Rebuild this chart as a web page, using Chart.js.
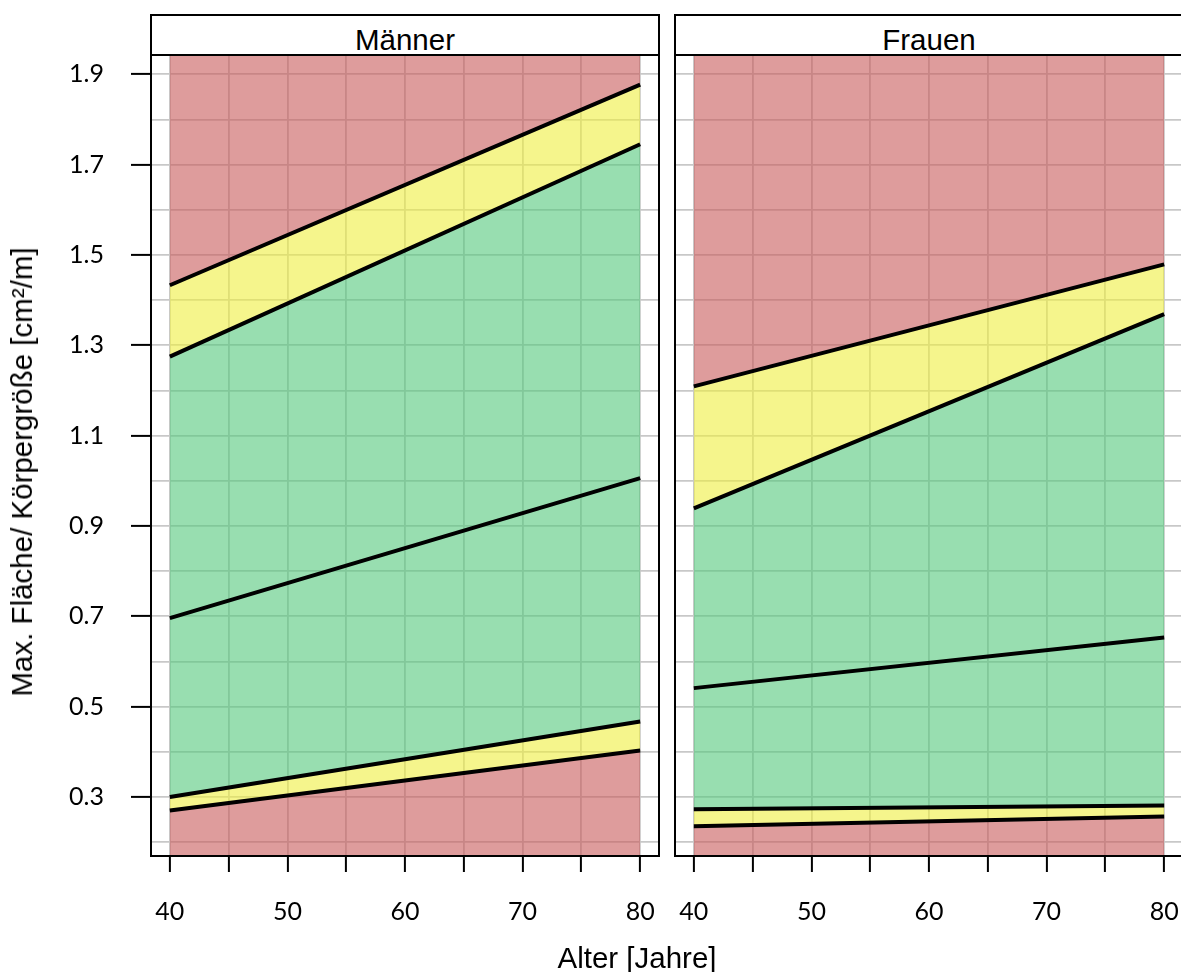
<!DOCTYPE html>
<html lang="de">
<head>
<meta charset="utf-8">
<title>Max. Fläche / Körpergröße nach Alter</title>
<script src="https://cdn.jsdelivr.net/npm/chart.js@4/dist/chart.umd.min.js"></script>
<style>
  html, body { margin: 0; padding: 0; background: #ffffff; overflow: hidden; }
  body { width: 1181px; height: 972px; position: relative; }
  canvas { position: absolute; top: 0; }
  #cMaenner { left: 0; }
  #cFrauen { left: 665px; }
  .strip {
    position: absolute; top: 14px; height: 42px; width: 510px;
    box-sizing: border-box; border: 2px solid #000; background: #fff;
    font-family: "Liberation Sans", Arial, sans-serif; font-size: 29.5px;
    line-height: 48px; text-align: center; color: #000;
  }
  .axis-title {
    position: absolute; font-family: "Liberation Sans", Arial, sans-serif;
    font-size: 29.5px; color: #000; white-space: nowrap;
  }
  #xTitle { left: 637px; top: 958px; transform: translate(-50%, -50%); }
  #yTitle { left: 22px; top: 472px; transform: translate(-50%, -50%) rotate(-90deg); }
</style>
</head>
<body>
<canvas id="cMaenner" width="665" height="972"></canvas>
<canvas id="cFrauen" width="525" height="972"></canvas>
<div class="strip" style="left:150px">Männer</div>
<div class="strip" style="left:674px">Frauen</div>
<div class="axis-title" id="xTitle">Alter [Jahre]</div>
<div class="axis-title" id="yTitle">Max. Fläche/ Körpergröße [cm²/m]</div>
<script>
// Alter an den Enden der Referenzgeraden
const ages = [40, 80];

// Männer: Grenzlinien (von unten nach oben) und Mittellinie
const maennerUntenRot = [0.270, 0.403];
const maennerUntenGelb = [0.300, 0.467];
const maennerMitte = [0.696, 1.006];
const maennerObenGruen = [1.275, 1.745];
const maennerObenGelb = [1.433, 1.877];

// Frauen: Grenzlinien (von unten nach oben) und Mittellinie
const frauenUntenRot = [0.235, 0.257];
const frauenUntenGelb = [0.273, 0.281];
const frauenMitte = [0.541, 0.653];
const frauenObenGruen = [0.939, 1.369];
const frauenObenGelb = [1.209, 1.479];

// Achsenbeschriftungen
const xLabelTicks = [40, 50, 60, 70, 80];
const yLabelTicks = [0.3, 0.5, 0.7, 0.9, 1.1, 1.3, 1.5, 1.7, 1.9];

const RED = 'rgba(200, 90, 90, 0.6)';
const YELLOW = 'rgba(238, 238, 63, 0.6)';
const GREEN = 'rgba(83, 200, 123, 0.6)';
const GRID = 'rgb(200, 200, 200)';

// Gemeinsamer Wertebereich beider Felder, um 4 % erweitert
const allValues = [].concat(maennerUntenRot, maennerUntenGelb, maennerMitte, maennerObenGruen, maennerObenGelb,
  frauenUntenRot, frauenUntenGelb, frauenMitte, frauenObenGruen, frauenObenGelb);
const vMin = Math.min(...allValues), vMax = Math.max(...allValues);
const yMin = vMin - 0.04 * (vMax - vMin);
const yMax = vMax + 0.04 * (vMax - vMin);
const xMin = ages[0] - 0.04 * (ages[1] - ages[0]);
const xMax = ages[1] + 0.04 * (ages[1] - ages[0]);

const pts = (vals) => ages.map((a, i) => ({ x: a, y: vals[i] }));

function line(vals, fill, bg, width) {
  return {
    data: pts(vals), fill: fill, backgroundColor: bg,
    borderColor: '#000', borderWidth: width, borderCapStyle: 'butt',
    pointRadius: 0, pointHoverRadius: 0, tension: 0
  };
}

function panelDatasets(untenRot, untenGelb, mitte, obenGruen, obenGelb) {
  return [
    line(untenRot, 'start', RED, 4),
    line(untenGelb, '-1', YELLOW, 4),
    line(obenGruen, '-1', GREEN, 4),
    line(obenGelb, '-1', YELLOW, 4),
    line(mitte, false, 'transparent', 4),
    line(obenGelb, 'end', RED, 0)
  ];
}

const isLabelled = (list, v) => list.some(t => Math.abs(t - v) < 1e-6);

// Rahmen um die Zeichenfläche
const panelFrame = {
  id: 'panelFrame',
  afterDraw(chart) {
    const { ctx, chartArea: a } = chart;
    ctx.save();
    ctx.strokeStyle = '#000';
    ctx.lineWidth = 2;
    ctx.strokeRect(a.left, a.top, a.right - a.left, a.bottom - a.top);
    ctx.restore();
  }
};

function makeChart(canvasId, datasets, showY, padding, yWidth) {
  return new Chart(document.getElementById(canvasId), {
    type: 'line',
    data: { datasets: datasets },
    plugins: [panelFrame],
    options: {
      responsive: false,
      devicePixelRatio: 1,
      animation: false,
      events: [],
      layout: { padding: padding },
      plugins: {
        legend: { display: false },
        tooltip: { enabled: false },
        filler: { drawTime: 'beforeDatasetsDraw' }
      },
      scales: {
        x: {
          type: 'linear', min: xMin, max: xMax,
          afterFit: (s) => { s.height = 116; s.paddingLeft = 0; s.paddingRight = 0; },
          border: { display: false },
          grid: { color: GRID, lineWidth: 1.8, tickColor: '#000', tickWidth: 2, tickLength: 16 },
          ticks: {
            stepSize: 5, includeBounds: false, autoSkip: false, maxRotation: 0,
            padding: 25, color: '#000',
            font: { family: 'Lato', size: 25 },
            callback: (v) => isLabelled(xLabelTicks, v) ? String(v) : ''
          }
        },
        y: {
          type: 'linear', min: yMin, max: yMax,
          afterFit: (s) => { s.width = yWidth; s.paddingTop = 0; s.paddingBottom = 0; },
          border: { display: false },
          grid: {
            color: GRID, lineWidth: 1.8, drawTicks: showY, tickLength: 20, tickWidth: 2,
            tickColor: (c) => (showY && c.tick && isLabelled(yLabelTicks, c.tick.value)) ? '#000' : 'rgba(0,0,0,0)'
          },
          ticks: {
            display: showY, stepSize: 0.1, includeBounds: false, autoSkip: false,
            padding: 27, color: '#000',
            font: { family: 'Lato', size: 25 },
            callback: (v) => isLabelled(yLabelTicks, v) ? v.toFixed(1) : ''
          }
        }
      }
    }
  });
}

makeChart('cMaenner',
  panelDatasets(maennerUntenRot, maennerUntenGelb, maennerMitte, maennerObenGruen, maennerObenGelb),
  true, { top: 55, right: 6, bottom: 0, left: 0 }, 151);

makeChart('cFrauen',
  panelDatasets(frauenUntenRot, frauenUntenGelb, frauenMitte, frauenObenGruen, frauenObenGelb),
  false, { top: 55, right: 7, bottom: 0, left: 0 }, 10);
</script>
</body>
</html>
